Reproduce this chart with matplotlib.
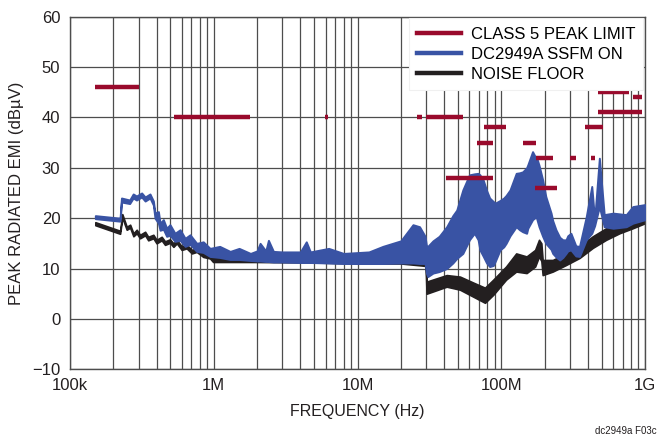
import numpy as np
import matplotlib
matplotlib.use("Agg")
import matplotlib.pyplot as plt
from matplotlib import font_manager
from matplotlib.ticker import FixedLocator, LogLocator, NullFormatter

# pick a narrow sans if there is one
names = {f.name for f in font_manager.fontManager.ttflist}
fam = 'Liberation Sans Narrow' if 'Liberation Sans Narrow' in names else 'Liberation Sans'
plt.rcParams['font.family'] = [fam, 'DejaVu Sans']

# CISPR 25 class 5 peak limit segments (MHz start, MHz stop, dBuV)
lim_start = [0.15, 0.53, 5.9, 26, 30, 41, 68, 76, 142, 174, 171, 300, 420, 380, 470, 820, 470]
lim_stop = [0.30, 1.8, 6.2, 28, 54, 88, 87, 108, 175, 230, 245, 330, 450, 512, 770, 960, 950]
lim_level = [46, 40, 40, 40, 40, 28, 35, 38, 35, 32, 26, 32, 32, 38, 45, 44, 41]

# DC2949A SSFM ON, envelope of the trace (MHz, upper dBuV, lower dBuV)
ssfm_f = [0.15, 0.223, 0.228, 0.26, 0.275, 0.29, 0.315, 0.333, 0.36, 0.38,
          0.39, 0.412, 0.423, 0.446, 0.47, 0.496, 0.537, 0.583, 0.632, 0.684,
          0.761, 0.845, 0.942, 1.1, 1.3, 1.5, 1.8, 2.0, 2.1, 2.3,
          2.4, 2.6, 3.0, 4.0, 4.4, 4.7, 6.3, 8.0, 12, 15,
          20, 24.3, 27, 29.5, 30.2, 30.8, 33.5, 37, 41.7, 46,
          49, 54, 60, 65, 69, 71, 75, 79, 83, 88,
          91, 98, 104, 108, 115, 127, 134, 141, 150, 153,
          165, 175, 178, 183, 194, 204, 222, 228, 240, 255,
          268, 282, 290, 305, 330, 350, 390, 426, 446, 481,
          520, 600, 740, 822, 1000]
ssfm_hi = [20.5, 20.0, 24.0, 23.6, 24.8, 24.4, 25.0, 24.2, 24.8, 23.4,
           21.0, 21.3, 19.0, 19.7, 18.0, 18.7, 17.0, 17.7, 16.0, 16.7,
           15.0, 15.3, 14.0, 14.4, 13.4, 14.0, 13.0, 13.5, 15.0, 13.5,
           15.6, 13.4, 13.3, 13.3, 15.3, 13.3, 14.0, 13.0, 13.3, 14.4,
           15.5, 18.7, 18.3, 16.4, 14.4, 14.4, 15.5, 16.4, 18.3, 20.5,
           21.6, 25.6, 28.6, 28.8, 28.9, 28.6, 27.5, 25.5, 24.0, 23.3,
           23.0, 23.5, 24.0, 24.5, 25.6, 28.9, 29.0, 29.2, 30.0, 30.6,
           33.2, 31.8, 31.6, 30.5, 27.6, 24.3, 21.0, 19.5, 17.7, 16.2,
           15.7, 15.7, 16.5, 17.0, 14.5, 14.4, 20.3, 26.3, 19.7, 31.9,
           20.7, 21.0, 20.7, 22.3, 22.7]
ssfm_lo = [19.9, 19.4, 23.2, 22.9, 24.0, 23.6, 24.2, 23.4, 24.0, 22.6,
           20.0, 19.0, 17.6, 17.8, 16.4, 16.6, 15.4, 15.6, 14.4, 14.8,
           13.4, 13.2, 12.4, 12.2, 11.8, 11.8, 11.6, 11.5, 11.5, 11.4,
           11.4, 11.3, 11.3, 11.2, 11.2, 11.2, 11.1, 11.0, 11.0, 11.0,
           11.1, 11.1, 11.0, 11.0, 9.0, 8.4, 9.1, 9.4, 10.0, 11.1,
           12.0, 13.0, 15.7, 17.0, 15.7, 13.7, 12.4, 11.1, 10.4, 10.6,
           11.5, 13.7, 14.3, 15.0, 16.5, 18.3, 17.7, 17.3, 17.0, 18.0,
           19.7, 20.3, 19.5, 18.3, 16.4, 15.0, 13.8, 13.0, 12.3, 11.7,
           12.2, 13.0, 13.5, 13.7, 12.5, 12.4, 15.7, 17.0, 18.5, 22.3,
           18.3, 18.0, 18.3, 19.0, 19.7]

# noise floor envelope (MHz, upper, lower)
floor_f = [0.15, 0.223, 0.231, 0.248, 0.262, 0.276, 0.291, 0.307, 0.333, 0.35,
           0.38, 0.40, 0.434, 0.458, 0.496, 0.524, 0.553, 0.598, 0.648, 0.704,
           0.761, 0.845, 0.942, 0.99, 2.0, 5.0, 10, 20, 28, 29.8,
           30.2, 41.7, 51.6, 64, 77, 88, 108, 127, 150, 172,
           183, 190, 194, 228, 282, 350, 433, 536, 664, 822, 1000]
floor_hi = [19.2, 17.5, 20.8, 18.3, 18.7, 17.0, 17.7, 16.7, 17.3, 16.3,
            16.7, 15.7, 16.3, 15.4, 15.8, 15.0, 15.7, 14.4, 14.7, 13.7,
            14.0, 13.0, 12.7, 12.2, 12.3, 12.2, 12.0, 12.0, 12.0, 11.5,
            7.4, 8.7, 8.4, 7.2, 6.2, 7.8, 10.4, 13.0, 12.4, 13.7,
            15.7, 15.0, 11.7, 11.7, 13.0, 14.4, 16.4, 18.0, 19.3, 19.6, 21.3]
floor_lo = [18.6, 16.9, 20.1, 17.7, 18.1, 16.4, 17.0, 16.0, 16.6, 15.6,
            16.0, 15.0, 15.6, 14.7, 15.1, 14.3, 15.0, 13.7, 14.0, 13.0,
            13.3, 12.3, 12.0, 11.3, 11.3, 11.2, 11.0, 11.0, 10.6, 10.5,
            5.0, 6.4, 5.8, 4.4, 3.2, 4.8, 7.8, 9.4, 9.1, 10.4,
            12.4, 11.5, 8.7, 9.4, 10.7, 12.1, 14.1, 15.7, 17.0, 18.0, 19.0]

red = '#990a2c'
blue = '#3953a4'
black = '#231f20'
grid_c = '#4d4d4d'

fig = plt.figure(figsize=(6.58, 4.43), dpi=100)
ax = fig.add_axes([0.1064, 0.1664, 0.8739, 0.796])

for a, b, lv in zip(lim_start, lim_stop, lim_level):
    ax.plot([a * 1e6, b * 1e6], [lv, lv], color=red, lw=3.2, solid_capstyle='butt', zorder=4)

nf = np.array(floor_f) * 1e6
ax.fill_between(nf, floor_lo, floor_hi, color=black, lw=1.2, zorder=2)
sf = np.array(ssfm_f) * 1e6
ax.fill_between(sf, ssfm_lo, ssfm_hi, color=blue, lw=1.4, zorder=3)

# legend handles
ax.plot([], [], color=red, lw=3.2, label='CLASS 5 PEAK LIMIT')
ax.plot([], [], color=blue, lw=3.2, label='DC2949A SSFM ON')
ax.plot([], [], color=black, lw=3.2, label='NOISE FLOOR')

ax.set_xscale('log')
ax.set_xlim(1e5, 1e9)
ax.set_ylim(-10, 60)
ax.xaxis.set_major_locator(FixedLocator([1e5, 1e6, 1e7, 1e8, 1e9]))
ax.set_xticklabels(['100k', '1M', '10M', '100M', '1G'])
ax.xaxis.set_minor_locator(LogLocator(base=10, subs=np.arange(2, 10), numticks=20))
ax.xaxis.set_minor_formatter(NullFormatter())
ax.set_yticks(range(-10, 61, 10))
ax.set_yticklabels(['\u221210'] + [str(v) for v in range(0, 61, 10)])
ax.tick_params(which='both', length=0, labelsize=12, colors='#231f20')
ax.tick_params(axis='x', pad=6)
ax.tick_params(axis='y', pad=7)
ax.grid(which='both', axis='x', color=grid_c, lw=0.9)
ax.grid(which='major', axis='y', color=grid_c, lw=0.9)
ax.set_axisbelow(True)
for s in ax.spines.values():
    s.set_color(grid_c)
    s.set_linewidth(1.0)

ax.set_xlabel('FREQUENCY (Hz)', fontsize=11.5, color='#231f20', labelpad=8)
ax.set_ylabel('PEAK RADIATED EMI (dB\u00b5V)', fontsize=12, color='#231f20', labelpad=6)

leg = ax.legend(loc='upper right', fontsize=12, frameon=True, fancybox=False,
                borderaxespad=0.1, handlelength=2.6, handletextpad=0.6,
                labelspacing=0.3, borderpad=0.5)
leg.get_frame().set_edgecolor('#f0f0f0')
leg.get_frame().set_linewidth(0.8)
leg.get_frame().set_alpha(1)
leg.set_zorder(6)

fig.text(0.998, 0.015, 'dc2949a F03c', ha='right', va='bottom', fontsize=7, color='#231f20')

fig.savefig('out.png', dpi=100)
